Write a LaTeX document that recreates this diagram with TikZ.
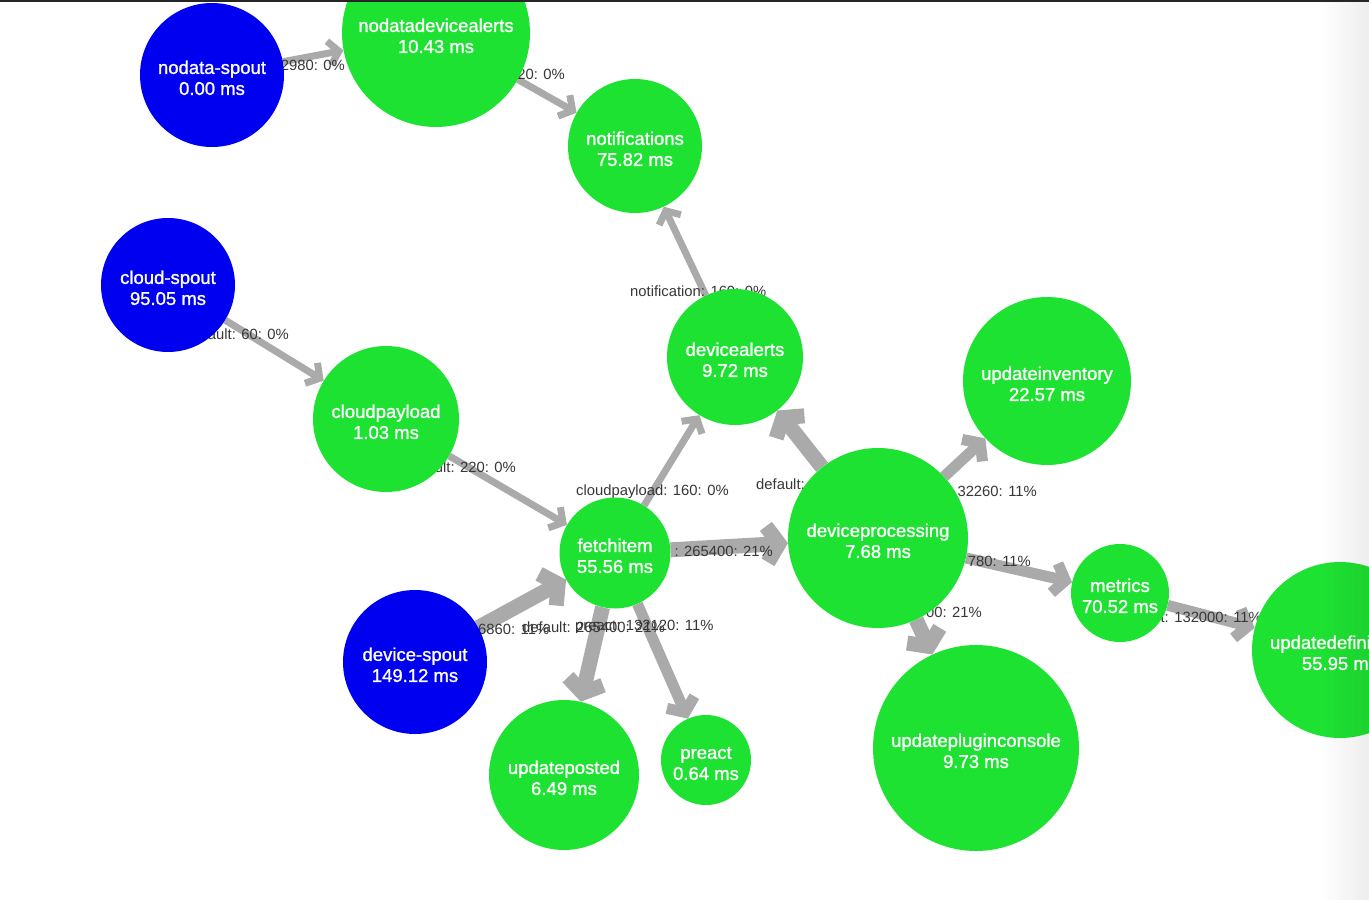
\documentclass[tikz,border=0pt]{standalone}
\usepackage{fontspec}
\setmainfont{Liberation Sans}
\newfontfamily\nodefont{Liberation Sans}[FakeBold=1.2]
\usetikzlibrary{arrows.meta}
\definecolor{nodegreen}{RGB}{30,226,50}
\definecolor{spoutblue}{RGB}{0,0,240}
\definecolor{edgegray}{RGB}{170,170,170}
\definecolor{labelgray}{RGB}{55,55,55}
\newcommand{\twoline}[2]{\rule{0pt}{19pt}#1\\#2}
\pgfdeclarelayer{bglayer}
\pgfdeclarelayer{edgelayer}
\pgfdeclarelayer{frontlayer}
\pgfsetlayers{bglayer,edgelayer,main,frontlayer}
\begin{document}
\begin{tikzpicture}[x=1pt,y=-1pt,
  bolt/.style={circle, inner sep=0pt, fill=nodegreen, text=white, align=center,
    font=\nodefont\fontsize{18.5}{21}\selectfont},
  spout/.style={bolt, fill=spoutblue},
  flowA/.style={draw=edgegray, line width=7pt, -{Straight Barb[length=10pt,width=24pt]}},
  flowB/.style={draw=edgegray, line width=11pt, -{Straight Barb[length=11pt,width=30pt]}},
  flowC/.style={draw=edgegray, line width=15pt, -{Straight Barb[length=12pt,width=36pt]}},
  elabel/.style={font=\fontsize{14.8}{17}\selectfont, text=labelgray, inner sep=0pt,
    text height=10.5pt, text depth=3pt}
]
\begin{pgfonlayer}{bglayer}
\fill[white] (0,0) rectangle (1369,900);
\end{pgfonlayer}
\useasboundingbox (0,0) rectangle (1369,900);

% nodes
\node[spout, minimum size=144pt] (nodataspout) at (212,75) {\twoline{nodata-spout}{0.00 ms}};
\node[bolt, minimum size=188pt] (nodatadevicealerts) at (436,33) {\twoline{nodatadevicealerts}{10.43 ms}};
\node[bolt, minimum size=134pt] (notifications) at (635,146) {\twoline{notifications}{75.82 ms}};
\node[spout, minimum size=134pt] (cloudspout) at (168,285) {\twoline{cloud-spout}{95.05 ms}};
\node[bolt, minimum size=146pt] (cloudpayload) at (386,419) {\twoline{cloudpayload}{1.03 ms}};
\node[bolt, minimum size=136pt] (devicealerts) at (735,357) {\twoline{devicealerts}{9.72 ms}};
\node[bolt, minimum size=168pt] (updateinventory) at (1047,381) {\twoline{updateinventory}{22.57 ms}};
\node[bolt, minimum size=111pt] (fetchitem) at (615,553) {\twoline{fetchitem}{55.56 ms}};
\node[bolt, minimum size=180pt] (deviceprocessing) at (878,538) {\twoline{deviceprocessing}{7.68 ms}};
\node[bolt, minimum size=98pt] (metrics) at (1120,593) {\twoline{metrics}{70.52 ms}};
\node[bolt, minimum size=176pt] (updatedefinitions) at (1340,650) {\twoline{updatedefinitions}{55.95 ms}};
\node[spout, minimum size=144pt] (devicespout) at (415,662) {\twoline{device-spout}{149.12 ms}};
\node[bolt, minimum size=150pt] (updateposted) at (564,775) {\twoline{updateposted}{6.49 ms}};
\node[bolt, minimum size=90pt] (preact) at (706,760) {\twoline{preact}{0.64 ms}};
\node[bolt, minimum size=206pt] (updatepluginconsole) at (976,748) {\twoline{updatepluginconsole}{9.73 ms}};

\begin{pgfonlayer}{edgelayer}
\draw[flowA] (nodataspout) -- (nodatadevicealerts);
\draw[flowA] (nodatadevicealerts) -- (notifications);
\draw[flowA] (devicealerts) -- (notifications);
\draw[flowA] (cloudspout) -- (cloudpayload);
\draw[flowA] (cloudpayload) -- (fetchitem);
\draw[flowA] (fetchitem) -- (devicealerts);
\draw[flowC] (fetchitem) -- (deviceprocessing);
\draw[flowC] (deviceprocessing) -- (devicealerts);
\draw[flowB] (deviceprocessing) -- (updateinventory);
\draw[flowB] (deviceprocessing) -- (metrics);
\draw[flowC] (deviceprocessing) -- (updatepluginconsole);
\draw[flowB] (metrics) -- (updatedefinitions);
\draw[flowC] (devicespout) -- (fetchitem);
\draw[flowC] (fetchitem) -- (updateposted);
\draw[flowB] (fetchitem) -- (preact);

\node[elabel, anchor=east] (l1) at (345,67) {2980: 0\%};
\node[elabel, anchor=east] (l2) at (565,76) {20: 0\%};
\node[elabel, anchor=west] (l3) at (630,293) {notification: 160: 0\%};
\node[elabel, anchor=east] (l4) at (289,336) {ault: 60: 0\%};
\node[elabel, anchor=east] (l5) at (516,469) {ult: 220: 0\%};
\node[elabel, anchor=west] (l6) at (576,492) {cloudpayload: 160: 0\%};
\node[elabel, anchor=east] (l7) at (773,553) {: 265400: 21\%};
\node[elabel, anchor=west] (l8) at (756,486) {default:};
\node[elabel, anchor=east] (l9) at (1037,493) {32260: 11\%};
\node[elabel, anchor=east] (l10) at (1031,563) {780: 11\%};
\node[elabel, anchor=east] (l11) at (982,614) {00: 21\%};
\node[elabel, anchor=east] (l12) at (1262,619) {t: 132000: 11\%};
\node[elabel, anchor=west] (l13) at (478,631) {6860: 11\%};
\node[elabel, anchor=west] (l14) at (522,629) {default: 265400: 21\%};
\node[elabel, anchor=west] (l15) at (575,627) {preact: 132120: 11\%};
\end{pgfonlayer}

\begin{pgfonlayer}{frontlayer}
\foreach \i in {0,...,24} {
  \fill[black, opacity=0.0028*\i] ({1319+2*\i},0) rectangle ({1321.2+2*\i},900);
}
\fill[black!85] (0,0) rectangle (1369,2);
\end{pgfonlayer}
\end{tikzpicture}
\end{document}
